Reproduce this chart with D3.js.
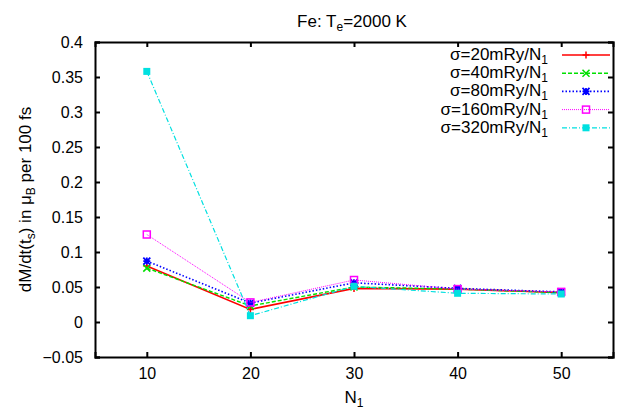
<!doctype html>
<html lang="en">
<head>
<meta charset="utf-8">
<title>Fe: Te=2000 K</title>
<script src="https://d3js.org/d3.v7.min.js"></script>
<style>
  body { margin: 0; background: #fff; }
  text { font-family: "Liberation Sans", Arial, sans-serif; fill: #000; }
</style>
</head>
<body>
<div id="svg"></div>
<script>

var width = 634;
var height = 414;

// data
var nValues = [10, 20, 30, 40, 50];
var sigma20 = [0.080, 0.018, 0.048, 0.047, 0.042];
var sigma40 = [0.077, 0.023, 0.050, 0.047, 0.042];
var sigma80 = [0.087, 0.027, 0.056, 0.048, 0.043];
var sigma160 = [0.125, 0.028, 0.060, 0.047, 0.043];
var sigma320 = [0.358, 0.009, 0.051, 0.041, 0.040];
var seriesNames = ["20", "40", "80", "160", "320"];
var xTicks = [10, 20, 30, 40, 50];
var yTicks = [-0.05, 0, 0.05, 0.1, 0.15, 0.2, 0.25, 0.3, 0.35, 0.4];

var series = [
    {name: seriesNames[0], values: sigma20, color: "#ff0000", dash: null, width: 1.6, marker: "plus"},
    {name: seriesNames[1], values: sigma40, color: "#00e000", dash: "4,2", width: 1.4, marker: "cross"},
    {name: seriesNames[2], values: sigma80, color: "#0000ff", dash: "1.5,2", width: 1.6, marker: "star"},
    {name: seriesNames[3], values: sigma160, color: "#ff00ff", dash: "1,1", width: 1, marker: "box"},
    {name: seriesNames[4], values: sigma320, color: "#00e0e0", dash: "5,2,1,2", width: 1.2, marker: "fbox"}
];

var margin = {left: 95, right: 21, top: 42, bottom: 57};

var x = d3.scaleLinear().domain([5, 55]).range([margin.left, width - margin.right]);
var y = d3.scaleLinear().domain([-0.05, 0.4]).range([height - margin.bottom, margin.top]);

var svg = d3.select("#svg").append("svg")
    .attr("width", width)
    .attr("height", height);

//axes, ticks inside on all four sides
var fmt = function(d) { return d3.format("")(+d.toFixed(2)); };

svg.append("g")
    .attr("transform", "translate(0," + y.range()[0] + ")")
    .call(d3.axisBottom(x).tickValues(xTicks).tickSize(-5).tickPadding(11).tickFormat(d3.format("d")));
svg.append("g")
    .attr("transform", "translate(0," + y.range()[1] + ")")
    .call(d3.axisTop(x).tickValues(xTicks).tickSize(-5).tickFormat(""));
svg.append("g")
    .attr("transform", "translate(" + x.range()[0] + ",0)")
    .call(d3.axisLeft(y).tickValues(yTicks).tickSize(-5).tickPadding(12).tickFormat(fmt));
svg.append("g")
    .attr("transform", "translate(" + x.range()[1] + ",0)")
    .call(d3.axisRight(y).tickValues(yTicks).tickSize(-5).tickFormat(""));

svg.selectAll(".domain").attr("stroke-width", 2).attr("stroke", "#000");
svg.selectAll(".tick line").attr("stroke-width", 2).attr("stroke", "#000");
svg.selectAll(".tick text").style("font-size", "16px").attr("fill", "#000")
    .style("font-family", "'Liberation Sans', Arial, sans-serif");

//markers
function drawMarker(g, kind, color, cx, cy) {
    var s = 3.5;
    if (kind == "plus") {
        g.append("path").attr("d", "M" + (cx - s) + "," + cy + "H" + (cx + s) + "M" + cx + "," + (cy - s) + "V" + (cy + s))
            .attr("stroke", color).attr("stroke-width", 1.5);
    } else if (kind == "cross") {
        g.append("path").attr("d", "M" + (cx - s) + "," + (cy - s) + "L" + (cx + s) + "," + (cy + s) + "M" + (cx - s) + "," + (cy + s) + "L" + (cx + s) + "," + (cy - s))
            .attr("stroke", color).attr("stroke-width", 1.5);
    } else if (kind == "star") {
        g.append("path").attr("d", "M" + (cx - s) + "," + cy + "H" + (cx + s) + "M" + cx + "," + (cy - s) + "V" + (cy + s) +
            "M" + (cx - s) + "," + (cy - s) + "L" + (cx + s) + "," + (cy + s) + "M" + (cx - s) + "," + (cy + s) + "L" + (cx + s) + "," + (cy - s))
            .attr("stroke", color).attr("stroke-width", 1.8);
    } else if (kind == "box") {
        g.append("rect").attr("x", cx - s).attr("y", cy - s).attr("width", 2 * s).attr("height", 2 * s)
            .attr("fill", "none").attr("stroke", color).attr("stroke-width", 1.5);
    } else {
        g.append("rect").attr("x", cx - s).attr("y", cy - s).attr("width", 2 * s).attr("height", 2 * s)
            .attr("fill", color);
    }
}

var line = d3.line()
    .x(function(d, i) { return x(nValues[i]); })
    .y(function(d) { return y(d); });

series.forEach(function(s) {
    var g = svg.append("g");
    g.append("path")
        .attr("d", line(s.values))
        .attr("fill", "none")
        .attr("stroke", s.color)
        .attr("stroke-width", s.width)
        .attr("stroke-dasharray", s.dash);
    s.values.forEach(function(v, i) {
        drawMarker(g, s.marker, s.color, x(nValues[i]), y(v));
    });
});

//legend
var legend = svg.append("g");
series.forEach(function(s, i) {
    var ly = 55 + i * 18.2;
    var t = legend.append("text")
        .attr("x", 548).attr("y", ly + 5)
        .attr("text-anchor", "end")
        .style("font-size", "17px");
    t.append("tspan").text("\u03c3=" + s.name + "mRy/N");
    t.append("tspan").attr("dy", 4).style("font-size", "12px").text("1");
    legend.append("line")
        .attr("x1", 562).attr("x2", 610).attr("y1", ly).attr("y2", ly)
        .attr("stroke", s.color).attr("stroke-width", s.width)
        .attr("stroke-dasharray", s.dash);
    drawMarker(legend, s.marker, s.color, 586, ly);
});

//title
var title = svg.append("text")
    .attr("x", 352).attr("y", 27)
    .attr("text-anchor", "middle")
    .style("font-size", "17px");
title.append("tspan").text("Fe: T");
title.append("tspan").attr("dy", 4).style("font-size", "12px").text("e");
title.append("tspan").attr("dy", -4).text("=2000 K");

//x label
var xl = svg.append("text")
    .attr("x", 354).attr("y", 403)
    .attr("text-anchor", "middle")
    .style("font-size", "17px");
xl.append("tspan").text("N");
xl.append("tspan").attr("dy", 4).style("font-size", "12px").text("1");

//y label
var yl = svg.append("text")
    .attr("transform", "translate(31," + ((margin.top + height - margin.bottom) / 2) + ") rotate(-90)")
    .attr("text-anchor", "middle")
    .style("font-size", "17px");
yl.append("tspan").text("dM/dt(t");
yl.append("tspan").attr("dy", 4).style("font-size", "12px").text("s");
yl.append("tspan").attr("dy", -4).text(") in \u03bc");
yl.append("tspan").attr("dy", 4).style("font-size", "12px").text("B");
yl.append("tspan").attr("dy", -4).text(" per 100 fs");

</script>
</body>
</html>
